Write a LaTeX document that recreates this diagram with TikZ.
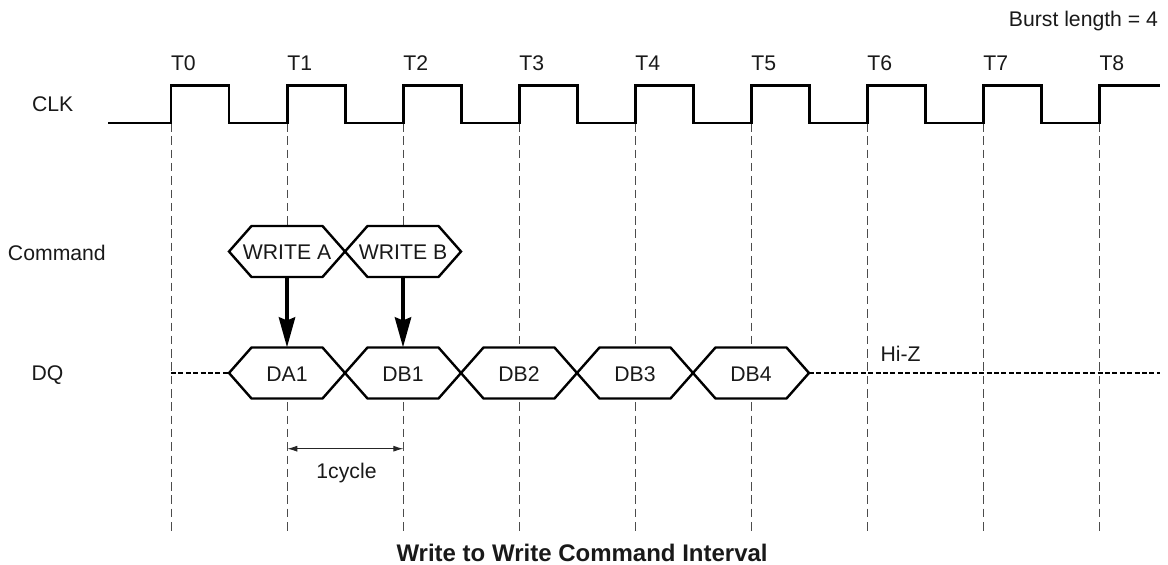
\documentclass[tikz,border=0pt]{standalone}
\usepackage{fontspec}
\setmainfont{Liberation Sans}
\usetikzlibrary{arrows.meta}
\tikzset{
  lbl/.style={inner sep=0pt,outer sep=0pt,font=\fontsize{21.2}{24}\selectfont,text=black!90},
  grid/.style={line width=0.9pt,black!70,dash pattern=on 8.5pt off 4.8pt},
  clk/.style={line width=2.5pt,black,line join=miter},
  hiz/.style={line width=2.3pt,black,dash pattern=on 5pt off 2.4pt},
  hexbox/.style={lbl,rectangle,minimum width=116pt,minimum height=51pt},
  hexline/.style={line width=2.4pt,black,fill=white,line join=miter},
  fat/.style={line width=4.5pt,black,-{Stealth[length=30pt,width=16pt,inset=3pt]}},
  dim/.style={line width=0.9pt,black!85,{Latex[length=10pt,width=6pt]}-{Latex[length=10pt,width=6pt]}},
}
\newcommand{\hexnode}[5]{%
  \node[hexbox] (#1) at (#2,#3) {};
  \draw[hexline] (#1.west) -- ([xshift=22.5pt]#1.north west) -- ([xshift=-22.5pt]#1.north east)
    -- (#1.east) -- ([xshift=-22.5pt]#1.south east) -- ([xshift=22.5pt]#1.south west) -- cycle;
  \node[lbl,anchor=base] at (#2,#5) {#4};
}
\begin{document}
\begin{tikzpicture}[x=1pt,y=-1pt]
\useasboundingbox (0,0) rectangle (1168,565);
% grid
\foreach \i/\xx in {0/171,1/287.3,2/403.3,3/519.3,4/635.3,5/751.3,6/867.3,7/983.3,8/1099.5}{
  \coordinate (g\i a) at (\xx,123);
  \coordinate (g\i b) at (\xx,531);
  \draw[grid] (g\i a) -- (g\i b);
  \node[lbl,anchor=base west] (t\i) at (\xx,70.7) {T\i};
}
% clock
\draw[clk] (108,123) -- (171,123)
 \foreach \xx in {171,287.3,403.3,519.3,635.3,751.3,867.3,983.3}{
   -- (\xx,123) -- (\xx,85.5) -- (\xx+58,85.5) -- (\xx+58,123)
 } -- (1099.5,123) -- (1099.5,85.5) -- (1160,85.5);
% hi-z
\coordinate (zl) at (171,373);
\coordinate (zr) at (1160,373);
\hexnode{wa}{287}{251.5}{WRITE A}{259.7}
\hexnode{wb}{403}{251.5}{WRITE B}{259.7}
\hexnode{da}{287}{373}{DA1}{381}
\hexnode{db}{403}{373}{DB1}{381}
\hexnode{dc}{519}{373}{DB2}{381}
\hexnode{dd}{635}{373}{DB3}{381}
\hexnode{de}{751}{373}{DB4}{381}
\draw[hiz] (zl) -- (da.west);
\draw[hiz] (de.east) -- (zr);
\draw[fat] (wa.south) -- (da.north);
\draw[fat] (wb.south) -- (db.north);
\coordinate (dl) at (287.3,448.7);
\coordinate (dr) at (403.3,448.7);
\draw[dim] (dl) -- (dr);
\node[lbl,anchor=base] (cyc) at (346.5,478) {1cycle};
\node[lbl,anchor=base east] (bl) at (1158,26.7) {Burst length = 4};
\node[lbl,anchor=base west] (clkl) at (32,111.7) {CLK};
\node[lbl,anchor=base west] (cmd) at (8,260) {Command};
\node[lbl,anchor=base west] (dql) at (31.5,380.7) {DQ};
\node[lbl,anchor=base west] (hz) at (880.5,361) {Hi-Z};
\node[lbl,anchor=base west,font=\fontsize{24}{28}\selectfont\bfseries] (ttl) at (396.5,561.7) {Write to Write Command Interval};
\end{tikzpicture}
\end{document}
